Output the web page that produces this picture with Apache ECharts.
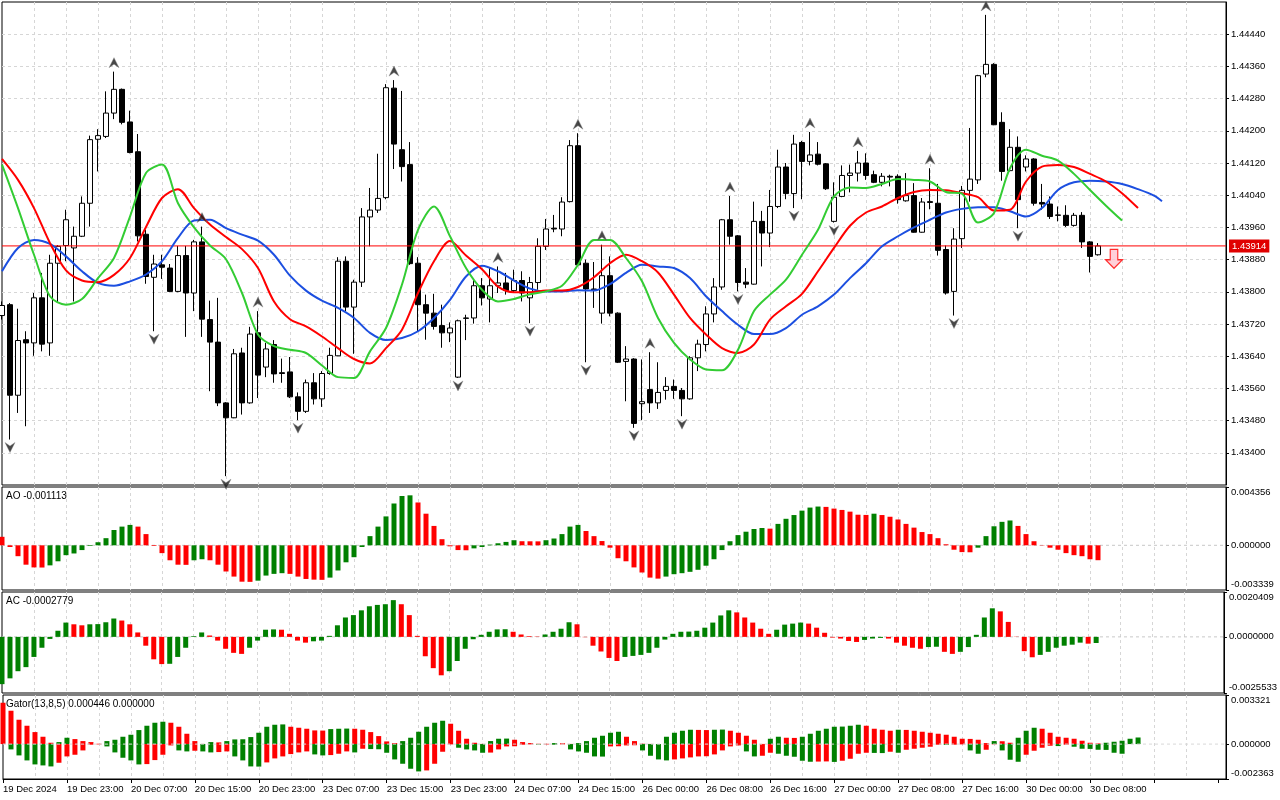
<!DOCTYPE html>
<html><head><meta charset="utf-8">
<script src="https://cdn.jsdelivr.net/npm/echarts/dist/echarts.min.js"></script>
<style>html,body{margin:0;padding:0;background:#fff}#c{width:1280px;height:800px}</style>
</head><body><div id="c"></div><script>
// ---------- DATA ----------
const timeLabels = ['19 Dec 2024','19 Dec 23:00','20 Dec 07:00','20 Dec 15:00','20 Dec 23:00','23 Dec 07:00','23 Dec 15:00','23 Dec 23:00','24 Dec 07:00','24 Dec 15:00','26 Dec 00:00','26 Dec 08:00','26 Dec 16:00','27 Dec 00:00','27 Dec 08:00','27 Dec 16:00','30 Dec 00:00','30 Dec 08:00'];
const opens = [
1.43741,1.43768,1.43543,1.43681,1.43673,1.43785,1.43673,1.43871,1.43915,1.43909,
1.43938,1.44020,1.44179,1.44186,1.44244,1.44303,1.44222,1.44148,1.43943,1.43836,
1.43867,1.43859,1.43801,1.43890,1.43797,1.43924,1.43731,1.43675,1.43524,1.43487,
1.43648,1.43524,1.43698,1.43613,1.43669,1.43599,1.43601,1.43539,1.43503,1.43574,
1.43534,1.43597,1.43641,1.43876,1.43762,1.43824,1.43986,1.44003,1.44034,1.44306,
1.44153,1.44116,1.43871,1.43768,1.43747,1.43716,1.43698,1.43588,1.43735,1.43735,
1.43815,1.43782,1.43815,1.43822,1.43803,1.43828,1.43785,1.43823,1.43913,1.43958,
1.43956,1.44024,1.44163,1.43871,1.43807,1.43747,1.43840,1.43747,1.43627,1.43633,
1.43522,1.43557,1.43524,1.43555,1.43565,1.43555,1.43534,1.43636,1.43669,1.43745,
1.43812,1.43979,1.43939,1.43824,1.43819,1.43975,1.43946,1.44012,1.44110,1.44044,
1.44171,1.44124,1.44142,1.44118,1.43975,1.44037,1.44089,1.44095,1.44120,1.44091,
1.44072,1.44087,1.44087,1.44026,1.44039,1.43948,1.44024,1.44020,1.43905,1.43801,
1.43932,1.44052,1.44078,1.44341,1.44365,1.44221,1.44101,1.44159,1.44110,1.44130,
1.44022,1.44018,1.43991,1.43990,1.43965,1.43990,1.43924,1.43892];
const highs = [
1.43776,1.43772,1.43758,1.43702,1.43797,1.43847,1.43892,1.43916,1.44004,1.43962,
1.44037,1.44188,1.44204,1.44298,1.44347,1.44305,1.44250,1.44192,1.43954,1.43892,
1.43892,1.43869,1.43914,1.43914,1.43929,1.43962,1.43778,1.43785,1.43526,1.43658,
1.43661,1.43713,1.43752,1.43673,1.43680,1.43634,1.43638,1.43550,1.43582,1.43598,
1.43603,1.43661,1.43886,1.43888,1.43830,1.44008,1.44058,1.44143,1.44316,1.44326,
1.44299,1.44172,1.43886,1.43793,1.43795,1.43768,1.43724,1.43731,1.43743,1.43832,
1.43834,1.43859,1.43863,1.43847,1.43855,1.43851,1.43837,1.43933,1.43981,1.43991,
1.44035,1.44177,1.44194,1.43880,1.43874,1.43917,1.43888,1.43749,1.43665,1.43635,
1.43632,1.43650,1.43625,1.43588,1.43582,1.43561,1.43640,1.43681,1.43764,1.43834,
1.43981,1.44038,1.43941,1.43859,1.44024,1.44001,1.44053,1.44153,1.44120,1.44190,
1.44175,1.44197,1.44172,1.44120,1.44072,1.44114,1.44116,1.44150,1.44144,1.44101,
1.44095,1.44091,1.44092,1.44095,1.44070,1.44033,1.44107,1.44068,1.43915,1.43958,
1.44063,1.44207,1.44339,1.44488,1.44368,1.44246,1.44204,1.44186,1.44139,1.44132,
1.44068,1.44037,1.44012,1.44015,1.43996,1.43998,1.43926,1.43921];
const lows = [
1.43731,1.43433,1.43499,1.43466,1.43641,1.43652,1.43641,1.43774,1.43876,1.43776,
1.43936,1.43962,1.44099,1.44182,1.44229,1.44216,1.44144,1.43925,1.43820,1.43702,
1.43832,1.43799,1.43799,1.43688,1.43752,1.43688,1.43553,1.43516,1.43342,1.43486,
1.43495,1.43522,1.43536,1.43588,1.43574,1.43574,1.43536,1.43481,1.43499,1.43520,
1.43514,1.43594,1.43640,1.43752,1.43646,1.43812,1.43913,1.43996,1.44030,1.44105,
1.44074,1.43867,1.43702,1.43681,1.43706,1.43661,1.43675,1.43586,1.43680,1.43721,
1.43766,1.43724,1.43797,1.43793,1.43797,1.43776,1.43722,1.43805,1.43904,1.43948,
1.43938,1.44022,1.43865,1.43625,1.43760,1.43721,1.43739,1.43623,1.43528,1.43462,
1.43481,1.43499,1.43509,1.43532,1.43534,1.43491,1.43532,1.43603,1.43652,1.43724,
1.43805,1.43917,1.43801,1.43809,1.43818,1.43863,1.43911,1.44008,1.44030,1.44008,
1.44030,1.44114,1.44114,1.44053,1.43972,1.44035,1.44047,1.44074,1.44078,1.44070,
1.44062,1.44062,1.44019,1.44024,1.43947,1.43947,1.44005,1.43890,1.43793,1.43741,
1.43909,1.44024,1.44068,1.44333,1.44214,1.44076,1.44099,1.43958,1.44099,1.44014,
1.44004,1.43981,1.43975,1.43961,1.43962,1.43909,1.43848,1.43890];
const closes = [
1.43766,1.43543,1.43679,1.43673,1.43785,1.43670,1.43871,1.43913,1.43979,1.43938,
1.44020,1.44178,1.44188,1.44244,1.44303,1.44221,1.44146,1.43939,1.43838,1.43869,
1.43861,1.43801,1.43890,1.43797,1.43924,1.43732,1.43675,1.43524,1.43487,1.43646,
1.43524,1.43695,1.43593,1.43658,1.43596,1.43597,1.43539,1.43503,1.43574,1.43534,
1.43597,1.43642,1.43876,1.43762,1.43824,1.43986,1.44003,1.44032,1.44307,1.44167,
1.44111,1.43870,1.43768,1.43747,1.43714,1.43698,1.43710,1.43728,1.43734,1.43815,
1.43785,1.43815,1.43822,1.43803,1.43828,1.43797,1.43823,1.43913,1.43956,1.43956,
1.44023,1.44163,1.43867,1.43807,1.43804,1.43840,1.43747,1.43625,1.43633,1.43473,
1.43527,1.43524,1.43550,1.43565,1.43555,1.43534,1.43636,1.43670,1.43745,1.43812,
1.43979,1.43938,1.43823,1.43819,1.43975,1.43946,1.44012,1.44110,1.44044,1.44167,
1.44124,1.44140,1.44117,1.44056,1.44035,1.44089,1.44095,1.44120,1.44089,1.44072,
1.44087,1.44085,1.44029,1.44039,1.43948,1.44023,1.44022,1.43903,1.43797,1.43931,
1.44052,1.44080,1.44337,1.44365,1.44215,1.44099,1.44159,1.44029,1.44130,1.44020,
1.44018,1.43987,1.43990,1.43965,1.43990,1.43924,1.43888,1.43914];

// Alligator lines: [bar index, price]
const jaw = [[0,1.43851],[2,1.43909],[4,1.43929],[6,1.43919],[8,1.43888],[10,1.43851],[12,1.43822],[14,1.43815],[16,1.43826],[18,1.43843],
[20,1.43876],[22,1.43934],[24,1.43977],[26,1.43979],[28,1.43958],[30,1.43942],[32,1.43927],[34,1.43892],[36,1.43840],[38,1.43803],
[40,1.43778],[42,1.43760],[44,1.43735],[46,1.43698],[48,1.43680],[50,1.43685],[52,1.43702],[54,1.43735],[56,1.43780],[58,1.43838],
[60,1.43865],[62,1.43851],[64,1.43828],[66,1.43808],[68,1.43801],[70,1.43801],[72,1.43804],[74,1.43803],[76,1.43819],[78,1.43847],
[80,1.43867],[82,1.43863],[84,1.43859],[86,1.43834],[88,1.43789],[90,1.43752],[92,1.43718],[94,1.43695],[96,1.43695],[98,1.43710],
[100,1.43743],[102,1.43764],[104,1.43793],[106,1.43834],[108,1.43871],[110,1.43913],[112,1.43938],[114,1.43960],[116,1.43979],[118,1.43997],
[120,1.44006],[122,1.44010],[124,1.44010],[126,1.44000],[128,1.43987],[130,1.44008],[132,1.44053],[134,1.44072],[136,1.44076],[138,1.44074],
[140,1.44068],[142,1.44055],[144,1.44039],[145,1.44025]];
const teeth = [[0,1.44130],[2,1.44078],[4,1.44008],[6,1.43921],[8,1.43853],[10,1.43828],[12,1.43824],[14,1.43842],[16,1.43884],[18,1.43961],
[20,1.44033],[22,1.44055],[24,1.44008],[26,1.43967],[28,1.43936],[30,1.43906],[32,1.43859],[34,1.43776],[36,1.43732],[38,1.43714],
[40,1.43689],[42,1.43660],[44,1.43633],[46,1.43622],[48,1.43660],[50,1.43706],[52,1.43797],[54,1.43876],[56,1.43926],[58,1.43890],
[60,1.43856],[62,1.43813],[64,1.43799],[66,1.43799],[68,1.43803],[70,1.43803],[72,1.43812],[74,1.43836],[76,1.43871],[78,1.43892],
[80,1.43876],[82,1.43848],[84,1.43793],[86,1.43735],[88,1.43694],[90,1.43660],[92,1.43648],[94,1.43669],[96,1.43731],[98,1.43764],
[100,1.43795],[102,1.43851],[104,1.43909],[106,1.43964],[108,1.43997],[110,1.44012],[112,1.44033],[114,1.44048],[116,1.44053],[118,1.44052],
[120,1.44045],[122,1.44035],[124,1.44002],[126,1.44004],[128,1.44074],[130,1.44111],[132,1.44115],[134,1.44110],[136,1.44093],[138,1.44074],
[140,1.44045],[142,1.44008]];
const lips = [[0,1.44116],[2,1.44008],[4,1.43892],[6,1.43789],[8,1.43768],[10,1.43782],[12,1.43834],[14,1.43884],[16,1.43987],[18,1.44095],
[20,1.44116],[22,1.44020],[24,1.43960],[26,1.43915],[28,1.43881],[30,1.43797],[32,1.43694],[34,1.43665],[36,1.43656],[38,1.43648],
[40,1.43617],[42,1.43588],[44,1.43586],[46,1.43652],[48,1.43710],[50,1.43818],[52,1.43954],[54,1.44012],[56,1.43938],[58,1.43859],
[60,1.43805],[62,1.43776],[64,1.43782],[66,1.43794],[68,1.43801],[70,1.43815],[72,1.43867],[74,1.43929],[76,1.43929],[78,1.43884],
[80,1.43826],[82,1.43735],[84,1.43673],[86,1.43632],[88,1.43607],[90,1.43605],[92,1.43656],[94,1.43752],[96,1.43793],[98,1.43830],
[100,1.43892],[102,1.43954],[104,1.44037],[106,1.44059],[108,1.44058],[110,1.44068],[112,1.44080],[114,1.44078],[116,1.44074],[118,1.44048],
[120,1.44044],[122,1.43972],[124,1.43996],[126,1.44107],[128,1.44153],[130,1.44138],[132,1.44126],[134,1.44093],[136,1.44053],[138,1.44014],
[140,1.43977]];

const fractalUpBars = [14,25,32,49,62,72,75,81,91,101,107,116,123];
const fractalDownBars = [1,19,28,37,57,66,73,79,85,92,99,104,119,127];
const sellSignal = [[139, 1.43882]];

const ao = [
0.000635,-0.000127,-0.000813,-0.001448,-0.001651,-0.001660,-0.001499,-0.001194,-0.000737,-0.000610,
-0.000356,-0.000051,0.000229,0.000533,0.001143,0.001397,0.001524,0.001397,0.000838,-0.000051,
-0.000584,-0.001118,-0.001448,-0.001460,-0.001118,-0.001041,-0.001118,-0.001448,-0.001956,-0.002337,
-0.002718,-0.002730,-0.002642,-0.002261,-0.002134,-0.002083,-0.002134,-0.002337,-0.002515,-0.002565,
-0.002580,-0.002413,-0.001880,-0.001270,-0.000889,-0.000127,0.000686,0.001397,0.002159,0.003124,
0.003683,0.003734,0.003200,0.002362,0.001448,0.000457,-0.000076,-0.000356,-0.000370,-0.000229,
-0.000127,0.000051,0.000152,0.000254,0.000381,0.000305,0.000300,0.000295,0.000381,0.000508,
0.000838,0.001397,0.001524,0.001067,0.000686,0.000318,-0.000178,-0.000965,-0.001194,-0.001651,
-0.002032,-0.002413,-0.002489,-0.002337,-0.002159,-0.002083,-0.001981,-0.001829,-0.001524,-0.001041,
-0.000356,0.000305,0.000762,0.001016,0.001219,0.001295,0.001245,0.001600,0.001981,0.002261,
0.002591,0.002819,0.002896,0.002870,0.002743,0.002642,0.002515,0.002286,0.002270,0.002362,
0.002261,0.002134,0.001930,0.001600,0.001321,0.000991,0.000838,0.000533,0.000076,-0.000330,
-0.000508,-0.000520,-0.000178,0.000686,0.001422,0.001753,0.001854,0.001448,0.000838,0.000305,
0.000025,-0.000178,-0.000330,-0.000584,-0.000737,-0.000813,-0.001041,-0.001113];
const ac = [
-0.002150,-0.001887,-0.001562,-0.001377,-0.000913,-0.000495,-0.000093,0.000278,0.000650,0.000572,
0.000526,0.000572,0.000580,0.000665,0.000835,0.000743,0.000572,0.000201,-0.000402,-0.001021,
-0.001238,-0.001225,-0.000913,-0.000495,0.000031,0.000201,0.000062,-0.000170,-0.000541,-0.000727,
-0.000774,-0.000495,-0.000170,0.000325,0.000340,0.000325,0.000139,-0.000170,-0.000263,-0.000201,
-0.000170,0.000046,0.000526,0.000882,0.000990,0.001207,0.001392,0.001454,0.001485,0.001671,
0.001485,0.000990,0.000046,-0.000882,-0.001423,-0.001748,-0.001562,-0.001098,-0.000541,-0.000108,
0.000093,0.000232,0.000340,0.000348,0.000232,0.000108,0.000031,0.000015,0.000108,0.000232,
0.000371,0.000665,0.000572,-0.000015,-0.000402,-0.000665,-0.000959,-0.001098,-0.000913,-0.000866,
-0.000820,-0.000727,-0.000495,-0.000124,0.000139,0.000232,0.000240,0.000278,0.000418,0.000650,
0.000975,0.001207,0.001114,0.000882,0.000650,0.000371,0.000139,0.000325,0.000557,0.000603,
0.000650,0.000603,0.000418,0.000186,-0.000031,-0.000077,-0.000186,-0.000232,-0.000139,-0.000077,
-0.000046,-0.000077,-0.000263,-0.000402,-0.000495,-0.000541,-0.000464,-0.000449,-0.000681,-0.000774,
-0.000681,-0.000464,0.000093,0.000882,0.001299,0.001160,0.000681,0.000010,-0.000650,-0.000928,
-0.000820,-0.000681,-0.000495,-0.000402,-0.000356,-0.000263,-0.000309,-0.0002779];
const gatorUpper = [
0.002797,0.002256,0.001647,0.001241,0.000812,0.000496,0.000090,0.000135,0.000429,0.000338,
0.000203,0.000135,0.000023,0.000203,0.000293,0.000496,0.000632,0.000948,0.001241,0.001444,
0.001512,0.001444,0.001173,0.000699,0.000203,0.000011,0.000135,0.000113,0.000203,0.000316,
0.000327,0.000474,0.000767,0.001173,0.001308,0.001331,0.001173,0.001105,0.001038,0.000925,
0.000914,0.001015,0.001038,0.001049,0.001038,0.000970,0.000812,0.000541,0.000180,0.000068,
0.000203,0.000429,0.000835,0.001173,0.001444,0.001579,0.001376,0.000902,0.000361,0.000090,
0.000011,0.000203,0.000361,0.000372,0.000293,0.000135,0.000068,0.000023,0.000018,0.000068,
0.000056,0.000011,0.000068,0.000203,0.000429,0.000564,0.000767,0.000835,0.000496,0.000203,
0.000023,0.000011,0.000007,0.000496,0.000767,0.000902,0.000970,0.000959,0.000948,0.000970,
0.000981,0.000902,0.000767,0.000564,0.000293,0.000011,0.000361,0.000496,0.000429,0.000417,
0.000496,0.000699,0.000902,0.001038,0.001173,0.001184,0.001241,0.001308,0.001241,0.001038,
0.000970,0.000902,0.000970,0.000959,0.000902,0.000835,0.000767,0.000699,0.000632,0.000496,
0.000361,0.000350,0.000293,0.000068,0.000203,0.000192,0.000090,0.000429,0.000902,0.001105,
0.001038,0.000767,0.000496,0.000429,0.000361,0.000226,0.000090,0.000045,0.000090,0.000158,
0.000226,0.000361,0.000446];
const gatorLower = [
null,-0.000361,-0.000767,-0.001105,-0.001376,-0.001444,-0.001512,-0.001263,-0.000835,-0.000722,
-0.000429,-0.000045,-0.000023,-0.000158,-0.000564,-0.000925,-0.001105,-0.001376,-0.001354,-0.001083,
-0.000722,-0.000090,-0.000429,-0.000496,-0.000451,-0.000496,-0.000564,-0.000541,-0.000496,-0.000835,
-0.001105,-0.001512,-0.001523,-0.001241,-0.000970,-0.000835,-0.000677,-0.000564,-0.000496,-0.000699,
-0.000767,-0.000744,-0.000654,-0.000496,-0.000564,-0.000316,-0.000338,-0.000350,-0.000587,-0.001038,
-0.001331,-0.001669,-0.001850,-0.001782,-0.001331,-0.000519,-0.000023,-0.000248,-0.000361,-0.000429,
-0.000587,-0.000575,-0.000361,-0.000158,-0.000147,-0.000045,-0.000023,-0.000034,-0.000023,-0.000045,
-0.000023,-0.000361,-0.000496,-0.000587,-0.000835,-0.000846,-0.000158,-0.000147,-0.000090,-0.000079,
-0.000429,-0.000790,-0.001038,-0.001105,-0.001038,-0.000970,-0.000902,-0.000835,-0.000823,-0.000699,
-0.000429,-0.000158,-0.000090,-0.000496,-0.000835,-0.000790,-0.000587,-0.000654,-0.000790,-0.000857,
-0.001128,-0.001196,-0.001184,-0.001173,-0.001207,-0.001128,-0.000993,-0.000654,-0.000587,-0.000598,
-0.000609,-0.000519,-0.000587,-0.000384,-0.000316,-0.000248,-0.000180,-0.000045,-0.000056,-0.000045,
-0.000023,-0.000429,-0.000654,-0.000384,-0.000023,-0.000429,-0.001060,-0.001196,-0.000722,-0.000451,
-0.000248,-0.000113,-0.000135,-0.000045,-0.000180,-0.000316,-0.000327,-0.000384,-0.000395,-0.000587,
-0.000654];

// axis ranges and tick label values
const priceAxis = {min: 1.43320, max: 1.44520, step: 0.00080};
const aoTicks = [-0.003339, 0, 0.004356];
const acTicks = [-0.0025533, 0, 0.0020409];
const gatorTicks = [-0.002363, 0, 0.003321];
const slotCount = 154;

// ---------- CHART ----------
const FONT = '"Liberation Sans", Arial, sans-serif';
const GREEN = '#008000', RED = '#ff0000';
const cats = Array.from({length: slotCount}, (_, i) => String(i));
const lastSlot = slotCount - 1;
const lastPrice = closes[closes.length - 1];

function colored(values, firstGreen, useAbs) {
  return values.map((v, i) => {
    if (v === null) return null;
    const p = i > 0 ? values[i - 1] : null;
    let g;
    if (p === null) g = firstGreen;
    else g = useAbs ? Math.abs(v) > Math.abs(p) : v > p;
    return {value: v, itemStyle: {color: g ? GREEN : RED}};
  });
}
const vGrid = {show: true, interval: 3, showMinLine: false, showMaxLine: false,
  lineStyle: {color: '#d6d6d6', type: [3, 3], width: 1}};
const gridsPos = [[2, 483], [487, 103], [592, 101], [695, 84]];
const grid = gridsPos.map(p => ({left: 2, width: 1224, top: p[0], height: p[1], show: true,
  borderColor: '#000', borderWidth: 1, backgroundColor: '#fff', containLabel: false}));

const xAxis = gridsPos.map((p, i) => ({
  type: 'category', gridIndex: i, data: cats, boundaryGap: false, position: 'bottom',
  axisLine: {show: i === 3, onZero: false, lineStyle: {color: '#000', width: 1}},
  axisTick: {show: i === 3, interval: 7, length: 4, lineStyle: {color: '#000'}},
  axisLabel: i === 3 ? {show: true, interval: 7, align: 'left', margin: 5, fontSize: 9.5,
    fontFamily: FONT, color: '#000', formatter: (v, idx) => timeLabels[idx / 8] || ''} : {show: false},
  splitLine: vGrid
}));

function indAxis(idx, ticks, dec) {
  const lo = ticks[0], hi = ticks[2];
  return {
    type: 'value', gridIndex: idx, position: 'right', min: lo, max: hi,
    axisLine: {show: true, onZero: false, lineStyle: {color: '#000'}},
    axisTick: {show: true, length: 3, customValues: ticks, lineStyle: {color: '#000'}},
    axisLabel: {customValues: ticks, margin: 5, fontSize: 9.5, fontFamily: FONT, color: '#000', lineHeight: 11,
      formatter: v => {
        const s = v.toFixed(dec);
        if (Math.abs(v - hi) < 1e-9) return '\n' + s;
        if (Math.abs(v - lo) < 1e-9) return s + '\n';
        return s;
      }},
    splitLine: {show: false}
  };
}
const yAxis = [
  {type: 'value', gridIndex: 0, position: 'right', min: priceAxis.min, max: priceAxis.max, interval: priceAxis.step,
   axisLine: {show: true, onZero: false, lineStyle: {color: '#000'}},
   axisTick: {show: true, length: 3, lineStyle: {color: '#000'}},
   axisLabel: {margin: 5, fontSize: 9.5, fontFamily: FONT, color: '#000', showMinLabel: false, showMaxLabel: false,
     formatter: v => v.toFixed(5)},
   splitLine: {show: true, showMinLine: false, showMaxLine: false, lineStyle: {color: '#d6d6d6', type: [3, 3], width: 1}}},
  indAxis(1, aoTicks, 6),
  indAxis(2, acTicks, 7),
  indAxis(3, gatorTicks, 6)
];

// horizontal reference line across a panel (value level from the data)
function hLine(axisIdx, level, color, dashed, z, extra) {
  return Object.assign({type: 'line', xAxisIndex: axisIdx, yAxisIndex: axisIdx, data: [[0, level], [lastSlot, level]],
    showSymbol: false, symbol: 'none', silent: true, z: z, clip: false,
    lineStyle: {color: color, width: 1, type: dashed ? [3, 3] : 'solid'}, itemStyle: {color: color}}, extra || {});
}

function aLine(pairs, color) {
  return {type: 'line', xAxisIndex: 0, yAxisIndex: 0, data: pairs, showSymbol: false, symbol: 'none',
    smooth: 0.3, lineStyle: {color: color, width: 2}, itemStyle: {color: color}, z: 4, silent: true};
}

const series = [
  {type: 'candlestick', xAxisIndex: 0, yAxisIndex: 0, barWidth: 5, z: 2,
   data: opens.map((o, i) => [o, closes[i], lows[i], highs[i]]),
   itemStyle: {color: '#ffffff', color0: '#000000', borderColor: '#000000', borderColor0: '#000000', borderWidth: 1}},
  hLine(0, lastPrice, '#ff0000', false, 3, {endLabel: {show: true, distance: 3, formatter: lastPrice.toFixed(5),
    color: '#fff', backgroundColor: '#e00000', padding: [2, 3, 1, 3], fontSize: 9.5, fontFamily: FONT}}),
  aLine(jaw, '#1c4fe0'),
  aLine(teeth, '#ff0000'),
  aLine(lips, '#33cc33'),
  {type: 'scatter', xAxisIndex: 0, yAxisIndex: 0, z: 5, silent: true,
   data: fractalUpBars.map(k => [k, highs[k]]),
   symbol: 'path://M5,0L10,10L5,6.5L0,10Z', symbolSize: [10, 10], symbolOffset: [0, -9],
   itemStyle: {color: '#1a1a1a', borderColor: '#8a8a8a', borderWidth: 0.5}},
  {type: 'scatter', xAxisIndex: 0, yAxisIndex: 0, z: 5, silent: true,
   data: fractalDownBars.map(k => [k, lows[k]]),
   symbol: 'path://M0,0L5,3.5L10,0L5,10Z', symbolSize: [10, 10], symbolOffset: [0, 8],
   itemStyle: {color: '#1a1a1a', borderColor: '#8a8a8a', borderWidth: 0.5}},
  {type: 'scatter', xAxisIndex: 0, yAxisIndex: 0, z: 5, silent: true, data: sellSignal,
   symbol: 'path://M5,0L13,0L13,11L18,11L9,20L0,11L5,11Z', symbolSize: [17, 19],
   itemStyle: {color: '#ffc4d0', borderColor: '#ff0000', borderWidth: 1.2}},
  {type: 'bar', xAxisIndex: 1, yAxisIndex: 1, barWidth: 5, data: colored(ao, false, false), silent: true},
  hLine(1, 0, '#c8c8c8', true, 1),
  {type: 'bar', xAxisIndex: 2, yAxisIndex: 2, barWidth: 5, data: colored(ac, true, false), silent: true},
  hLine(2, 0, '#c8c8c8', true, 1),
  {type: 'bar', xAxisIndex: 3, yAxisIndex: 3, barWidth: 5, barGap: '-100%', data: colored(gatorUpper, false, false), silent: true},
  {type: 'bar', xAxisIndex: 3, yAxisIndex: 3, barWidth: 5, barGap: '-100%', data: colored(gatorLower, true, true), silent: true},
  hLine(3, 0, '#d8d8d8', true, 3)
];

const tStyle = {fontSize: 10, fontWeight: 'normal', color: '#000', fontFamily: FONT};
const title = [
  {text: 'AO ' + ao[ao.length - 1].toFixed(6), left: 4, top: 489, padding: 2, textStyle: tStyle},
  {text: 'AC ' + ac[ac.length - 1].toFixed(7), left: 4, top: 594, padding: 2, textStyle: tStyle},
  {text: 'Gator(13,8,5) ' + gatorUpper[gatorUpper.length - 1].toFixed(6) + ' ' + (0).toFixed(6), left: 4, top: 697, padding: 2, textStyle: tStyle}
];

const chart = echarts.init(document.getElementById('c'), null, {renderer: 'canvas'});
chart.setOption({backgroundColor: '#fff', animation: false, title, grid, xAxis, yAxis, series});
</script></body></html>
